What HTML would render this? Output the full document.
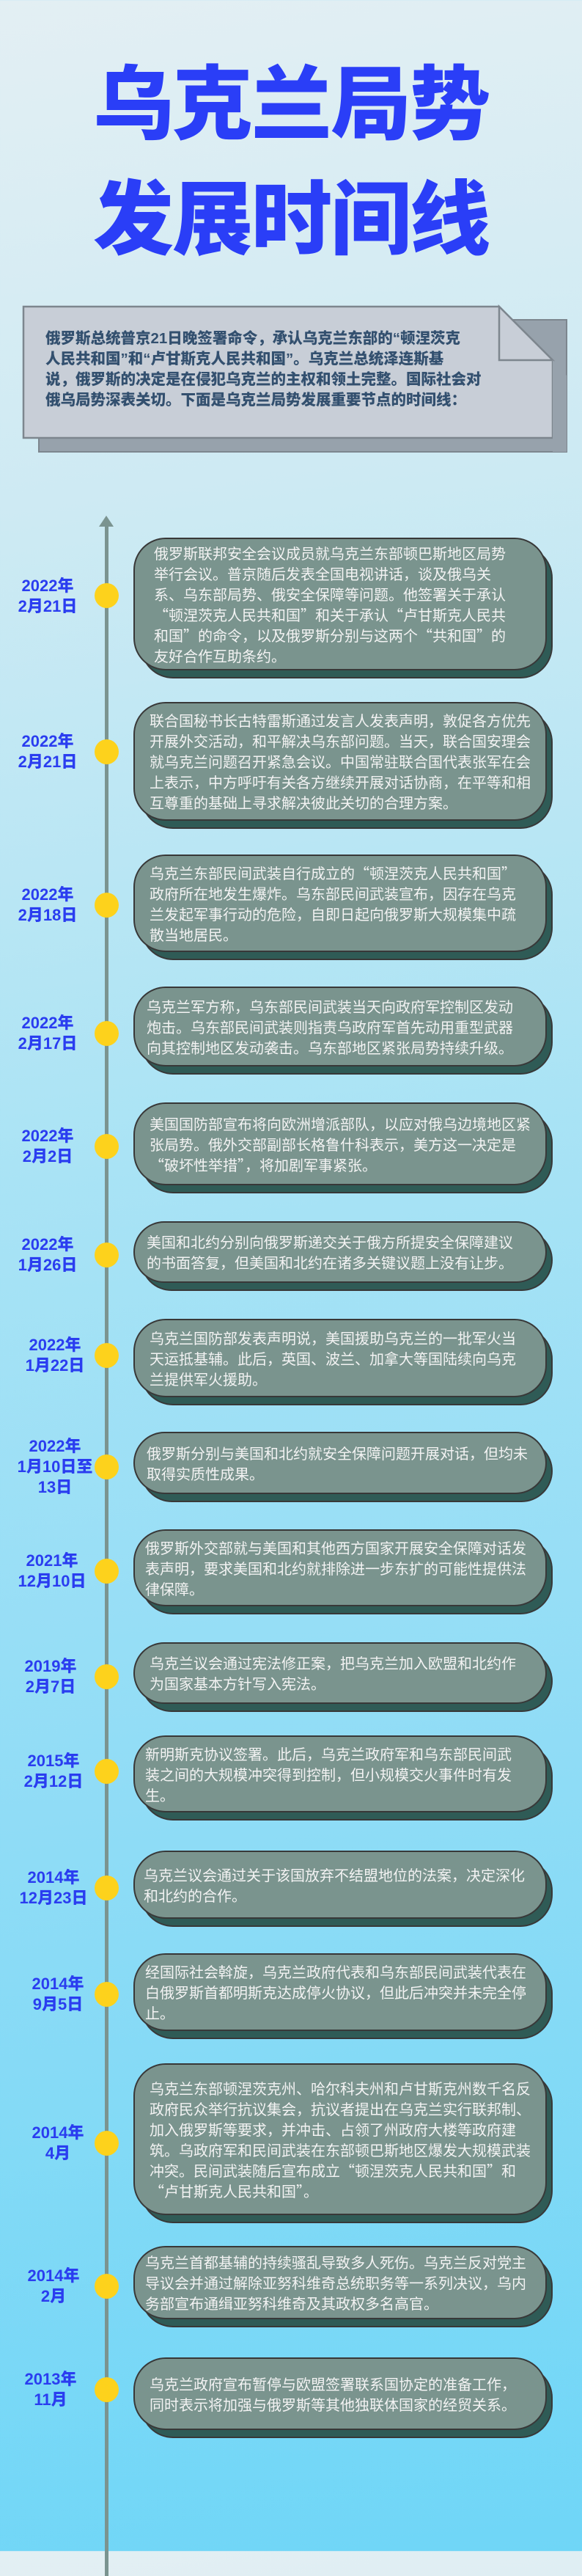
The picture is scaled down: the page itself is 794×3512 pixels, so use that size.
<!DOCTYPE html>
<html><head><meta charset="utf-8">
<style>
*{margin:0;padding:0;box-sizing:border-box}
body{width:794px;height:3478px;position:relative;overflow:hidden;
background:linear-gradient(172deg,#e3eff3 0%,#cdeaf3 20%,#a9e3f5 45%,#8fdcf6 70%,#6fd6f7 100%);
font-family:"Liberation Sans","Noto Sans CJK SC",sans-serif}
.title{position:absolute;left:0;width:794px;text-align:center;color:#2a3ef7;font-size:110px;font-weight:900;line-height:110px;font-family:"Noto Sans CJK SC",sans-serif;letter-spacing:-2px}
.ibox{position:absolute}
.line{position:absolute;left:143px;top:712px;width:5px;height:2800px;background:#7b9490}
.arrow{position:absolute;left:135px;top:703px;width:0;height:0;border-left:10px solid transparent;border-right:10px solid transparent;border-bottom:15px solid #7b9490}
.dot{position:absolute;left:129px;width:33px;height:34px;border-radius:50%;background:#fdd21c}
.date{position:absolute;left:4px;width:122px;text-align:center;color:#2a3df0;font-weight:900;font-size:22px;line-height:28px;font-family:"Liberation Sans","Noto Sans CJK SC",sans-serif}
.sh{position:absolute;left:192px;width:562px;background:#2f5b56;border:2.5px solid #383838;border-radius:44px}
.card{position:absolute;left:182px;width:564px;background:#7a948e;border:2.5px solid #383838;border-radius:44px;display:flex;align-items:center;padding-left:20px;color:#f3f3f3;font-size:20px;line-height:28px;white-space:nowrap;overflow:hidden;font-family:"Noto Sans CJK SC",sans-serif}
</style></head><body>
<div class="title" style="top:78px">乌克兰局势</div>
<div class="title" style="top:235px">发展时间线</div>

<svg class="ibox" style="left:0;top:0" width="794" height="640">
<polygon points="53,436 773,436 773,616 53,616" fill="#97a2ac" stroke="#7d868e" stroke-width="2"/>
<polygon points="32,418 681,418 754,491 754,597 32,597" fill="#c8ced7" stroke="#7d868e" stroke-width="2.5"/>
<polygon points="681,418 681,491 754,491" fill="#c8ced7" stroke="#7d868e" stroke-width="2.5"/>
<polygon points="754,491 773,512 773,616 754,616" fill="#97a2ac"/>
</svg>
<div style="position:absolute;left:62px;top:448px;color:#33506f;font-weight:900;font-size:20.5px;line-height:28px;white-space:nowrap;font-family:'Liberation Sans','Noto Sans CJK SC',sans-serif">俄罗斯总统普京21日晚签署命令，承认乌克兰东部的“顿涅茨克<br>人民共和国”和“卢甘斯克人民共和国”。乌克兰总统泽连斯基<br>说，俄罗斯的决定是在侵犯乌克兰的主权和领土完整。国际社会对<br>俄乌局势深表关切。下面是乌克兰局势发展重要节点的时间线：</div>

<div class="line"></div><div class="arrow"></div>

<div class="sh" style="top:744px;height:181px"></div><div class="card" style="top:733px;height:181px;padding-left:26px">俄罗斯联邦安全会议成员就乌克兰东部顿巴斯地区局势<br>举行会议。普京随后发表全国电视讲话，谈及俄乌关<br>系、乌东部局势、俄安全保障等问题。他签署关于承认<br>“顿涅茨克人民共和国”和关于承认“卢甘斯克人民共<br>和国”的命令，以及俄罗斯分别与这两个“共和国”的<br>友好合作互助条约。</div>
<div class="dot" style="top:795px"></div><div class="date" style="top:785px">2022年<br>2月21日</div>

<div class="sh" style="top:968px;height:162px"></div><div class="card" style="top:957px;height:162px">联合国秘书长古特雷斯通过发言人发表声明，敦促各方优先<br>开展外交活动，和平解决乌东部问题。当天，联合国安理会<br>就乌克兰问题召开紧急会议。中国常驻联合国代表张军在会<br>上表示，中方呼吁有关各方继续开展对话协商，在平等和相<br>互尊重的基础上寻求解决彼此关切的合理方案。</div>
<div class="dot" style="top:1008px"></div><div class="date" style="top:997px">2022年<br>2月21日</div>

<div class="sh" style="top:1176px;height:133px"></div><div class="card" style="top:1165px;height:133px">乌克兰东部民间武装自行成立的“顿涅茨克人民共和国”<br>政府所在地发生爆炸。乌东部民间武装宣布，因存在乌克<br>兰发起军事行动的危险，自即日起向俄罗斯大规模集中疏<br>散当地居民。</div>
<div class="dot" style="top:1217px"></div><div class="date" style="top:1206px">2022年<br>2月18日</div>

<div class="sh" style="top:1356px;height:109px"></div><div class="card" style="top:1345px;height:109px;padding-left:16px">乌克兰军方称，乌东部民间武装当天向政府军控制区发动<br>炮击。乌东部民间武装则指责乌政府军首先动用重型武器<br>向其控制地区发动袭击。乌东部地区紧张局势持续升级。</div>
<div class="dot" style="top:1392px"></div><div class="date" style="top:1381px">2022年<br>2月17日</div>

<div class="sh" style="top:1514px;height:113px"></div><div class="card" style="top:1503px;height:113px">美国国防部宣布将向欧洲增派部队，以应对俄乌边境地区紧<br>张局势。俄外交部副部长格鲁什科表示，美方这一决定是<br>“破坏性举措”，将加剧军事紧张。</div>
<div class="dot" style="top:1546px"></div><div class="date" style="top:1535px">2022年<br>2月2日</div>

<div class="sh" style="top:1676px;height:84px"></div><div class="card" style="top:1665px;height:84px;padding-left:16px">美国和北约分别向俄罗斯递交关于俄方所提安全保障建议<br>的书面答复，但美国和北约在诸多关键议题上没有让步。</div>
<div class="dot" style="top:1694px"></div><div class="date" style="top:1683px">2022年<br>1月26日</div>

<div class="sh" style="top:1809px;height:107px"></div><div class="card" style="top:1798px;height:107px">乌克兰国防部发表声明说，美国援助乌克兰的一批军火当<br>天运抵基辅。此后，英国、波兰、加拿大等国陆续向乌克<br>兰提供军火援助。</div>
<div class="dot" style="top:1831px"></div><div class="date" style="top:1820px;left:14px">2022年<br>1月22日</div>

<div class="sh" style="top:1963px;height:85px"></div><div class="card" style="top:1952px;height:85px;padding-left:16px">俄罗斯分别与美国和北约就安全保障问题开展对话，但均未<br>取得实质性成果。</div>
<div class="dot" style="top:1983px"></div><div class="date" style="top:1958px;left:14px">2022年<br>1月10日至<br>13日</div>

<div class="sh" style="top:2096px;height:105px"></div><div class="card" style="top:2085px;height:105px;padding-left:14px">俄罗斯外交部就与美国和其他西方国家开展安全保障对话发<br>表声明，要求美国和北约就排除进一步东扩的可能性提供法<br>律保障。</div>
<div class="dot" style="top:2125px"></div><div class="date" style="top:2114px;left:10px">2021年<br>12月10日</div>

<div class="sh" style="top:2250px;height:84px"></div><div class="card" style="top:2239px;height:84px">乌克兰议会通过宪法修正案，把乌克兰加入欧盟和北约作<br>为国家基本方针写入宪法。</div>
<div class="dot" style="top:2269px"></div><div class="date" style="top:2258px;left:8px">2019年<br>2月7日</div>

<div class="sh" style="top:2377px;height:105px"></div><div class="card" style="top:2366px;height:105px;padding-left:14px">新明斯克协议签署。此后，乌克兰政府军和乌东部民间武<br>装之间的大规模冲突得到控制，但小规模交火事件时有发<br>生。</div>
<div class="dot" style="top:2398px"></div><div class="date" style="top:2387px;left:12px">2015年<br>2月12日</div>

<div class="sh" style="top:2534px;height:93px"></div><div class="card" style="top:2523px;height:93px;padding-left:12px">乌克兰议会通过关于该国放弃不结盟地位的法案，决定深化<br>和北约的合作。</div>
<div class="dot" style="top:2557px"></div><div class="date" style="top:2546px;left:12px">2014年<br>12月23日</div>

<div class="sh" style="top:2674px;height:106px"></div><div class="card" style="top:2663px;height:106px;padding-left:14px">经国际社会斡旋，乌克兰政府代表和乌东部民间武装代表在<br>白俄罗斯首都明斯克达成停火协议，但此后冲突并未完全停<br>止。</div>
<div class="dot" style="top:2702px"></div><div class="date" style="top:2691px;left:18px">2014年<br>9月5日</div>

<div class="sh" style="top:2824px;height:207px"></div><div class="card" style="top:2813px;height:207px">乌克兰东部顿涅茨克州、哈尔科夫州和卢甘斯克州数千名反<br>政府民众举行抗议集会，抗议者提出在乌克兰实行联邦制、<br>加入俄罗斯等要求，并冲击、占领了州政府大楼等政府建<br>筑。乌政府军和民间武装在东部顿巴斯地区爆发大规模武装<br>冲突。民间武装随后宣布成立“顿涅茨克人民共和国”和<br>“卢甘斯克人民共和国”。</div>
<div class="dot" style="top:2905px"></div><div class="date" style="top:2894px;left:18px">2014年<br>4月</div>

<div class="sh" style="top:3073px;height:100px"></div><div class="card" style="top:3062px;height:100px;padding-left:14px">乌克兰首都基辅的持续骚乱导致多人死伤。乌克兰反对党主<br>导议会并通过解除亚努科维奇总统职务等一系列决议，乌内<br>务部宣布通缉亚努科维奇及其政权多名高官。</div>
<div class="dot" style="top:3100px"></div><div class="date" style="top:3089px;left:12px">2014年<br>2月</div>

<div class="sh" style="top:3225px;height:99px"></div><div class="card" style="top:3214px;height:99px">乌克兰政府宣布暂停与欧盟签署联系国协定的准备工作，<br>同时表示将加强与俄罗斯等其他独联体国家的经贸关系。</div>
<div class="dot" style="top:3241px"></div><div class="date" style="top:3230px;left:8px">2013年<br>11月</div>
</body></html>
